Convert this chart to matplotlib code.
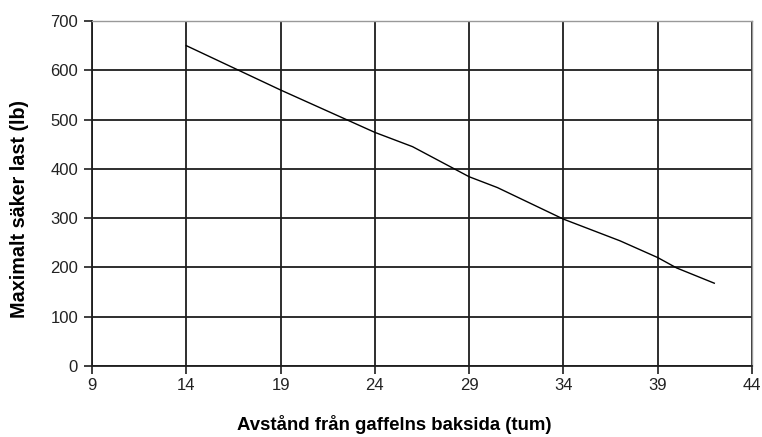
import matplotlib
matplotlib.use("Agg")
import matplotlib.pyplot as plt

# Data
distance_in = [14, 19, 24, 26, 29, 30.5, 34, 37, 39, 40, 42]
max_load_lb = [650, 560, 474, 445, 384, 362, 298, 254, 220, 199, 168]

x_ticks = [9, 14, 19, 24, 29, 34, 39, 44]
y_ticks = [0, 100, 200, 300, 400, 500, 600, 700]

x_label = "Avstånd från gaffelns baksida (tum)"
y_label = "Maximalt säker last (lb)"

plt.rcParams['font.family'] = ['Liberation Sans', 'DejaVu Sans']

fig = plt.figure(figsize=(7.62, 4.37), dpi=100)
ax = fig.add_axes([92/762, 1 - 366/437, 660/762, 345/437])

ax.plot(distance_in, max_load_lb, color='black', linewidth=1.0, zorder=3)

ax.set_xlim(9, 44)
ax.set_ylim(0, 700)
ax.set_xticks(x_ticks)
ax.set_yticks(y_ticks)
ax.grid(True, color='#1e1e1e', linewidth=1.3, zorder=1)
ax.set_axisbelow(True)

for side in ['top', 'right']:
    ax.spines[side].set_color('#999999')
    ax.spines[side].set_linewidth(1.0)
for side in ['left', 'bottom']:
    ax.spines[side].set_color('#1e1e1e')
    ax.spines[side].set_linewidth(1.3)

ax.tick_params(axis='both', direction='out', length=6, width=1.2, color='#1e1e1e',
               labelsize=12, labelcolor='#222222')
ax.tick_params(axis='y', pad=4)
ax.tick_params(axis='x', pad=3)

ax.set_xlabel(x_label, fontsize=13.4, fontweight='bold')
ax.set_ylabel(y_label, fontsize=14.2, fontweight='bold')
ax.xaxis.set_label_coords(0.458, -0.142)
ax.yaxis.set_label_coords(-0.0955, 0.455)

fig.savefig("out.png", dpi=100)
